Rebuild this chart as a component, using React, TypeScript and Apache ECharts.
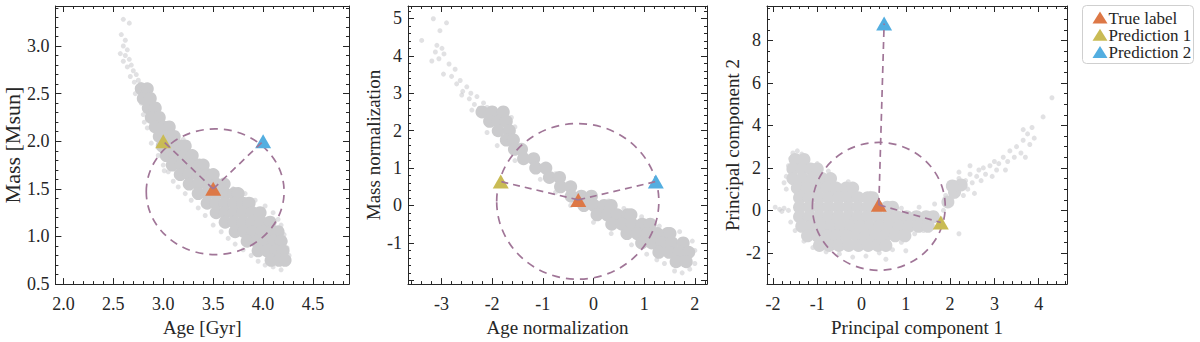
import React, { useEffect, useRef } from 'react';
import * as echarts from 'echarts';

const FONT = '"Liberation Serif", "Times New Roman", serif';
const INK = '#262626';
const DASH = '#a07597';
const ORANGE = '#dd7846';
const YELLOW = '#c9bb54';
const BLUE = '#53aee0';
const CORE = '#cbcbcd';
const HALO = 'rgba(196,196,199,0.5)';
const CORE3 = '#d3d3d5';

const SERIES_NAMES = ['True label', 'Prediction 1', 'Prediction 2'];
const MARKER_COLORS = [ORANGE, YELLOW, BLUE];

// ---------- Panel 1: Age [Gyr] vs Mass [Msun] ----------
const p1XName = 'Age [Gyr]';
const p1YName = 'Mass [Msun]';
const p1True = [3.5, 1.5];
const p1Pred1 = [3.0, 2.0];
const p1Pred2 = [4.0, 2.0];
const p1Circle = [3.52, 1.47, 0.69, 0.66]; // cx, cy, rx, ry
const p1Core = [
  [2.78, 2.55], [2.84, 2.55],
  [2.80, 2.45], [2.87, 2.45],
  [2.85, 2.35], [2.92, 2.35],
  [2.88, 2.25], [2.96, 2.25],
  [2.92, 2.15], [3.00, 2.15], [3.06, 2.15],
  [2.96, 2.05], [3.04, 2.05], [3.11, 2.05],
  [2.99, 1.95], [3.08, 1.95], [3.17, 1.95], [3.22, 1.95],
  [3.03, 1.85], [3.12, 1.85], [3.21, 1.85], [3.29, 1.85],
  [3.09, 1.75], [3.18, 1.75], [3.27, 1.75], [3.36, 1.75], [3.40, 1.75],
  [3.17, 1.65], [3.26, 1.65], [3.35, 1.65], [3.44, 1.65], [3.50, 1.65],
  [3.26, 1.55], [3.35, 1.55], [3.44, 1.55], [3.53, 1.55], [3.61, 1.55],
  [3.35, 1.45], [3.44, 1.45], [3.53, 1.45], [3.62, 1.45], [3.71, 1.45], [3.75, 1.45],
  [3.44, 1.35], [3.53, 1.35], [3.62, 1.35], [3.71, 1.35], [3.80, 1.35], [3.86, 1.35],
  [3.53, 1.25], [3.62, 1.25], [3.71, 1.25], [3.80, 1.25], [3.89, 1.25], [3.97, 1.25],
  [3.62, 1.15], [3.71, 1.15], [3.80, 1.15], [3.89, 1.15], [3.98, 1.15], [4.07, 1.15],
  [3.72, 1.05], [3.81, 1.05], [3.90, 1.05], [3.99, 1.05], [4.08, 1.05], [4.15, 1.05],
  [3.84, 0.95], [3.93, 0.95], [4.02, 0.95], [4.11, 0.95], [4.18, 0.95],
  [3.95, 0.85], [4.04, 0.85], [4.13, 0.85], [4.20, 0.85],
  [4.08, 0.75], [4.16, 0.75], [4.22, 0.75],
];
const p1Halo = [
  [2.60, 3.28], [2.66, 3.24], [2.58, 3.12], [2.62, 3.06], [2.60, 3.00], [2.64, 2.96],
  [2.57, 2.92], [2.62, 2.90], [2.66, 2.86], [2.60, 2.84], [2.68, 2.80], [2.64, 2.78],
  [2.70, 2.74], [2.73, 2.70], [2.67, 2.68], [2.75, 2.64], [2.71, 2.62], [2.77, 2.60],
  [2.74, 2.56], [2.80, 2.52], [2.72, 2.50], [2.83, 2.42], [2.78, 2.40], [2.88, 2.32],
  [2.80, 2.28], [2.93, 2.20], [2.84, 2.14], [2.98, 2.10], [2.88, 1.98], [3.20, 2.02],
  [3.25, 1.90], [2.95, 1.85], [3.00, 1.75], [3.05, 1.68], [3.10, 1.58], [3.15, 1.52],
  [3.22, 1.45], [3.28, 1.38], [3.35, 1.30], [3.42, 1.22], [3.50, 1.12], [3.58, 1.05],
  [3.65, 0.98], [3.72, 0.92], [3.80, 0.86], [3.88, 0.80], [3.95, 0.74], [4.02, 0.70],
  [4.10, 0.68], [4.18, 0.65], [4.24, 0.72], [4.26, 0.80], [4.24, 0.88], [4.22, 0.95],
  [4.21, 1.02], [4.18, 1.12], [3.45, 1.62], [3.60, 1.55], [3.70, 1.50], [3.82, 1.45],
  [3.92, 1.38], [4.02, 1.32], [4.10, 1.25], [4.15, 1.18], [2.81, 2.20], [3.01, 1.69],
];

// ---------- Panel 2: Age normalization vs Mass normalization ----------
const p2XName = 'Age normalization';
const p2YName = 'Mass normalization';
const p2True = [-0.30, 0.15];
const p2Pred1 = [-1.83, 0.64];
const p2Pred2 = [1.23, 0.64];
const p2Circle = [-0.31, 0.11, 1.60, 2.08];
const p2Core = [
  [-2.20, 2.50], [-2.00, 2.50], [-1.78, 2.50],
  [-2.05, 2.25], [-1.88, 2.25], [-1.72, 2.25],
  [-1.88, 2.00], [-1.66, 2.00],
  [-1.72, 1.75], [-1.58, 1.75],
  [-1.56, 1.50], [-1.42, 1.50],
  [-1.38, 1.25], [-1.18, 1.25],
  [-1.14, 1.00], [-0.94, 1.00],
  [-0.87, 0.75], [-0.67, 0.75],
  [-0.65, 0.50], [-0.45, 0.50],
  [-0.44, 0.25], [-0.24, 0.25], [-0.04, 0.25],
  [-0.19, 0.00], [0.01, 0.00], [0.21, 0.00], [0.35, 0.00],
  [0.07, -0.25], [0.27, -0.25], [0.47, -0.25], [0.67, -0.25], [0.74, -0.25],
  [0.36, -0.50], [0.56, -0.50], [0.76, -0.50], [0.96, -0.50], [1.12, -0.50],
  [0.66, -0.75], [0.86, -0.75], [1.06, -0.75], [1.26, -0.75], [1.46, -0.75], [1.51, -0.75],
  [0.95, -1.00], [1.15, -1.00], [1.35, -1.00], [1.55, -1.00], [1.77, -1.00],
  [1.29, -1.25], [1.49, -1.25], [1.69, -1.25], [1.88, -1.25],
  [1.63, -1.50], [1.83, -1.50],
];
const p2Halo = [
  [-3.16, 4.99], [-2.90, 4.88], [-3.03, 4.67], [-3.39, 4.41], [-3.09, 4.28], [-2.99, 4.20],
  [-3.12, 4.10], [-2.95, 4.05], [-3.19, 3.86], [-3.05, 3.92], [-2.85, 3.78], [-2.96, 3.51],
  [-2.73, 3.64], [-2.80, 3.45], [-2.63, 3.34], [-2.70, 3.25], [-2.50, 3.17], [-2.58, 3.05],
  [-2.42, 3.00], [-2.30, 2.91], [-2.45, 2.85], [-2.17, 2.74], [-2.35, 2.70], [-2.10, 2.62],
  [-2.40, 2.55], [-1.62, 2.35], [-1.55, 2.10], [-2.10, 1.95], [-1.40, 1.55], [-1.90, 1.60],
  [-1.25, 1.30], [-1.55, 1.20], [-1.00, 1.05], [-0.75, 0.85], [-1.05, 0.70], [-0.45, 0.55],
  [-0.75, 0.35], [-0.10, 0.30], [-0.45, 0.00], [0.30, 0.12], [0.60, -0.08], [0.00, -0.45],
  [0.95, -0.30], [0.35, -0.75], [1.30, -0.55], [0.75, -1.05], [1.70, -0.70], [1.05, -1.30],
  [1.95, -0.95], [2.00, -1.20], [1.40, -1.55], [1.60, -1.75], [1.75, -1.80], [2.00, -1.55],
  [1.90, -1.70], [1.25, -1.45], [-2.60, 2.95], [-2.25, 2.60],
];

// ---------- Panel 3: Principal component 1 vs Principal component 2 ----------
const p3XName = 'Principal component 1';
const p3YName = 'Principal component 2';
const p3True = [0.39, 0.26];
const p3Pred1 = [1.79, -0.57];
const p3Pred2 = [0.51, 8.80];
const p3Circle = [0.39, 0.19, 1.50, 3.01];
const p3Core = [
  [-1.50, 2.40], [-1.30, 2.40],
  [-1.55, 1.95], [-1.35, 1.95], [-1.15, 1.95], [-1.00, 1.95],
  [-1.55, 1.50], [-1.33, 1.50], [-1.11, 1.50], [-0.89, 1.50], [-0.70, 1.50],
  [-1.45, 1.05], [-1.23, 1.05], [-1.01, 1.05], [-0.79, 1.05], [-0.57, 1.05], [-0.35, 1.05], [-0.20, 1.05],
  [-1.40, 0.60], [-1.18, 0.60], [-0.96, 0.60], [-0.74, 0.60], [-0.52, 0.60], [-0.30, 0.60], [-0.08, 0.60], [0.14, 0.60], [0.25, 0.60],
  [-1.40, 0.15], [-1.18, 0.15], [-0.96, 0.15], [-0.74, 0.15], [-0.52, 0.15], [-0.30, 0.15], [-0.08, 0.15], [0.14, 0.15], [0.36, 0.15], [0.58, 0.15], [0.70, 0.15],
  [-1.40, -0.30], [-1.18, -0.30], [-0.96, -0.30], [-0.74, -0.30], [-0.52, -0.30], [-0.30, -0.30], [-0.08, -0.30], [0.14, -0.30], [0.36, -0.30], [0.58, -0.30], [0.80, -0.30], [1.02, -0.30], [1.24, -0.30], [1.46, -0.30], [1.62, -0.30],
  [-1.35, -0.75], [-1.13, -0.75], [-0.91, -0.75], [-0.69, -0.75], [-0.47, -0.75], [-0.25, -0.75], [-0.03, -0.75], [0.19, -0.75], [0.41, -0.75], [0.63, -0.75], [0.85, -0.75], [1.07, -0.75], [1.29, -0.75], [1.50, -0.75],
  [-1.22, -1.20], [-1.00, -1.20], [-0.78, -1.20], [-0.56, -1.20], [-0.34, -1.20], [-0.12, -1.20], [0.10, -1.20], [0.32, -1.20], [0.54, -1.20], [0.76, -1.20], [0.98, -1.20],
  [-0.95, -1.65], [-0.73, -1.65], [-0.51, -1.65], [-0.29, -1.65], [-0.07, -1.65], [0.15, -1.65], [0.37, -1.65], [0.55, -1.65],
  [1.95, 0.40], [2.10, 0.85], [2.25, 1.20], [2.05, 1.15],
];
const p3Halo = [
  [1.85, 0.00], [1.95, 0.30], [1.90, 0.70], [2.00, 1.00], [2.05, 0.60], [2.10, 1.30],
  [2.15, 0.90], [2.20, 1.50], [2.25, 1.10], [2.30, 0.70], [2.35, 1.40], [2.40, 1.00],
  [2.45, 1.70], [2.50, 1.30], [2.55, 0.80], [2.60, 1.60], [2.65, 1.90], [2.70, 1.40],
  [2.75, 2.00], [2.80, 1.70], [2.90, 2.10], [2.95, 1.60], [3.00, 2.30], [3.05, 1.90],
  [3.10, 2.20], [3.20, 2.50], [3.25, 1.90], [3.30, 2.30], [3.35, 2.80], [3.45, 2.50],
  [3.50, 3.00], [3.60, 2.70], [3.65, 3.30], [3.70, 2.50], [3.75, 3.60], [3.80, 3.10],
  [3.85, 3.90], [3.90, 3.40], [3.65, 3.80], [4.30, 5.30], [4.10, 4.40], [2.20, 1.80],
  [2.45, 2.10], [-1.85, 0.05], [-1.75, 0.10], [-1.65, 0.00], [-1.95, 0.15], [-1.80, -0.05],
  [-1.70, 1.60], [-1.75, 1.30], [-1.65, 2.10], [-1.55, 2.70], [-1.45, 2.80], [-1.35, 2.65],
  [-1.25, 2.50], [-1.60, 2.45], [-1.70, 1.00], [-1.60, -0.55], [-1.50, -0.95], [-1.30, -1.45],
  [-1.10, -1.75], [-0.80, -1.95], [-0.50, -2.05], [-0.20, -2.20], [0.10, -2.15], [0.40, -2.00],
  [0.70, -1.85], [0.90, -1.50], [1.20, -1.10], [1.40, -0.95], [1.60, -0.70], [1.80, -0.40],
  [1.65, 0.30], [1.30, 0.15], [0.90, 0.10], [0.20, 0.80], [-0.30, 1.35], [-0.75, 1.85],
  [-1.00, 2.20], [0.55, -2.30], [1.00, -1.90], [2.20, -1.10],
];

// ---------- Axis ranges ----------
const p1XAxis = { min: 1.92, max: 4.86, interval: 0.5, minor: 5, digits: 1, hidden: [] as number[] };
const p1YAxis = { min: 0.5, max: 3.42, interval: 0.5, minor: 5, digits: 1, hidden: [] as number[] };
const p2XAxis = { min: -3.66, max: 2.24, interval: 1, minor: 5, digits: 0, hidden: [] as number[] };
const p2YAxis = { min: -2.1, max: 5.33, interval: 1, minor: 5, digits: 0, hidden: [-2] };
const p3XAxis = { min: -2.135, max: 4.64, interval: 1, minor: 5, digits: 0, hidden: [] as number[] };
const p3YAxis = { min: -3.47, max: 9.62, interval: 2, minor: 4, digits: 0, hidden: [] as number[] };

const panels = [
  { xa: p1XAxis, ya: p1YAxis, xName: p1XName, yName: p1YName, core: p1Core, coreColor: CORE, halo: p1Halo, pts: [p1True, p1Pred1, p1Pred2], circle: p1Circle, left: 49, width: 300, yGap: 25, yNameSize: 22 },
  { xa: p2XAxis, ya: p2YAxis, xName: p2XName, yName: p2YName, core: p2Core, coreColor: CORE, halo: p2Halo, pts: [p2True, p2Pred1, p2Pred2], circle: p2Circle, left: 408, width: 299, yGap: 22, yNameSize: 19 },
  { xa: p3XAxis, ya: p3YAxis, xName: p3XName, yName: p3YName, core: p3Core, coreColor: CORE3, halo: p3Halo, pts: [p3True, p3Pred1, p3Pred2], circle: p3Circle, left: 767, width: 300, yGap: 22, yNameSize: 19 },
];

function labelFmt(a: any) {
  return (v: number) => {
    const k = v / a.interval;
    if (Math.abs(k - Math.round(k)) > 1e-6) return '';
    if (a.hidden.some((h: number) => Math.abs(h - v) < 1e-6)) return '';
    const s = v.toFixed(a.digits);
    return s === '-0' ? '0' : s;
  };
}

function axisPair(kind: 'x' | 'y', gridIndex: number, a: any, name: string, gap: number, nameSize: number) {
  const common: any = {
    type: 'value',
    gridIndex,
    min: a.min,
    max: a.max,
    minInterval: a.interval,
    maxInterval: a.interval,
    splitNumber: Math.max(1, Math.round((a.max - a.min) / a.interval)),
    axisLine: { show: true, onZero: false, lineStyle: { color: INK, width: 1 } },
    axisTick: { show: true, inside: true, length: 6, lineStyle: { color: INK, width: 1 } },
    minorTick: { show: true, splitNumber: a.minor, length: 3, lineStyle: { color: INK, width: 1 } },
    splitLine: { show: false },
    minorSplitLine: { show: false },
  };
  const main = {
    ...common,
    position: kind === 'x' ? 'bottom' : 'left',
    axisLabel: {
      show: true,
      fontFamily: FONT,
      fontSize: 18,
      color: INK,
      margin: kind === 'x' ? 11 : 6,
      formatter: labelFmt(a),
    },
    name,
    nameLocation: 'middle',
    nameGap: gap,
    nameTextStyle: { fontFamily: FONT, fontSize: nameSize, color: INK },
  };
  const mirror = {
    ...common,
    position: kind === 'x' ? 'top' : 'right',
    axisLabel: { show: false },
  };
  return [main, mirror];
}

// Legend drawn as a framed box with triangle icons and text rows.
function legendGraphic() {
  const left = 1082.5;
  const top = 5.5;
  const rowH = 17.2;
  const children: any[] = [
    {
      type: 'rect',
      shape: { x: left, y: top, width: 111, height: 58, r: 4 },
      style: { fill: '#ffffff', stroke: '#cfcfcf', lineWidth: 1 },
    },
  ];
  SERIES_NAMES.forEach((n, i) => {
    const cy = top + 12 + rowH * i;
    children.push({
      type: 'polygon',
      shape: { points: [[left + 10, cy + 6], [left + 17.5, cy - 6], [left + 25, cy + 6]] },
      style: { fill: MARKER_COLORS[i] },
    });
    children.push({
      type: 'text',
      x: left + 26,
      y: cy + 0.5,
      style: {
        text: n,
        fontFamily: FONT,
        fontSize: 17,
        fill: INK,
        align: 'left',
        verticalAlign: 'middle',
      },
    });
  });
  return [{ type: 'group', silent: true, children }];
}

function buildOption() {
  const grid: any[] = [];
  const xAxis: any[] = [];
  const yAxis: any[] = [];
  const series: any[] = [];
  panels.forEach((p, i) => {
    grid.push({ left: p.left, top: 6, width: p.width, height: 289, containLabel: false });
    xAxis.push(...axisPair('x', i, p.xa, p.xName, 24, 19));
    yAxis.push(...axisPair('y', i, p.ya, p.yName, p.yGap, p.yNameSize));
    const xi = 2 * i;
    const yi = 2 * i;
    series.push({
      type: 'scatter', xAxisIndex: xi, yAxisIndex: yi, data: p.halo, symbolSize: 5,
      itemStyle: { color: HALO, opacity: 1, borderWidth: 0 }, emphasis: { disabled: true }, silent: true, z: 1,
    });
    series.push({
      type: 'scatter', xAxisIndex: xi, yAxisIndex: yi, data: p.core, symbolSize: 13,
      itemStyle: { color: p.coreColor, opacity: 1, borderWidth: 0 },
      emphasis: { disabled: true }, silent: true, z: 1,
    });
    series.push({
      type: 'custom', xAxisIndex: xi, yAxisIndex: yi, data: [p.circle], silent: true, z: 2, clip: false,
      renderItem: (_params: any, api: any) => {
        const c = api.coord([api.value(0), api.value(1)]);
        const s = api.size([api.value(2), api.value(3)]);
        return {
          type: 'ellipse',
          shape: { cx: c[0], cy: c[1], rx: s[0], ry: s[1] },
          style: { fill: 'none', stroke: DASH, lineWidth: 1.7, lineDash: [8, 6] },
        };
      },
    });
    p.pts.forEach((pt, k) => {
      series.push({
        type: 'scatter', name: SERIES_NAMES[k], xAxisIndex: xi, yAxisIndex: yi, data: [pt],
        symbol: 'triangle', symbolSize: [16, 14],
        itemStyle: { color: MARKER_COLORS[k], opacity: 1, borderWidth: 0 },
        emphasis: { disabled: true }, silent: true, z: 3,
      });
    });
    [p.pts[1], p.pts[2]].forEach((pred) => {
      series.push({
        type: 'line', xAxisIndex: xi, yAxisIndex: yi, data: [p.pts[0], pred], symbol: 'none',
        lineStyle: { color: DASH, width: 1.7, type: [7, 5] }, silent: true, z: 4,
      });
    });
  });
  return {
    animation: false,
    backgroundColor: '#ffffff',
    grid,
    xAxis,
    yAxis,
    graphic: { elements: legendGraphic() },
    series,
  };
}

export default function App() {
  const ref = useRef<HTMLDivElement>(null);
  useEffect(() => {
    if (!ref.current) return;
    const chart = echarts.init(ref.current, undefined, { renderer: 'svg' });
    chart.setOption(buildOption() as any);
    return () => chart.dispose();
  }, []);
  return (
    <div
      ref={ref}
      style={{ position: 'absolute', left: 0, top: 0, width: 1200, height: 342, background: '#fff' }}
    />
  );
}
